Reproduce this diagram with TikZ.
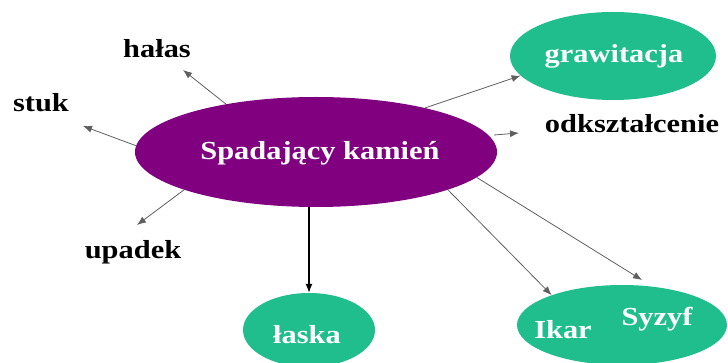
\documentclass[tikz,border=0pt]{standalone}
\usepackage{fontspec}
\setmainfont{Liberation Serif}
\usetikzlibrary{arrows.meta,shapes.geometric}
\definecolor{kpurple}{RGB}{128,0,128}
\definecolor{kgreen}{RGB}{32,190,140}
\definecolor{karrow}{RGB}{95,95,95}
\newcommand{\wide}[1]{\scalebox{1.17}[1]{#1}}
\tikzset{
  lbl/.style={font=\fontsize{26}{30}\selectfont\bfseries, text=black, inner sep=0pt, anchor=base},
  intxt/.style={lbl, text=white},
  blob/.style={ellipse, draw=none, inner sep=0pt},
  conn/.style={draw=karrow, line width=0.8pt, -{Latex[length=9pt,width=7pt]}},
  connb/.style={draw=black, line width=1.3pt, -{Latex[length=9pt,width=7pt]}}
}
\begin{document}
\begin{tikzpicture}[x=1pt,y=-1pt]
\useasboundingbox (0,0) rectangle (728,363);
\clip (0,0) rectangle (728,363);
% ellipses
\node[blob, fill=kpurple, minimum width=362pt, minimum height=110pt] (c) at (316,152) {};
\node[blob, fill=kgreen, minimum width=206pt, minimum height=88pt] (g) at (613,56) {};
\node[blob, fill=kgreen, minimum width=132pt, minimum height=74pt] (l) at (309,330) {};
\node[blob, fill=kgreen, minimum width=210pt, minimum height=80pt] (is) at (622,325) {};
% texts
\node[intxt] (ct) at (320,160) {\wide{Spadający kamień}};
\node[intxt] (gt) at (614,63) {\wide{grawitacja}};
\node[intxt] (lt) at (307,343) {\wide{łaska}};
\node[intxt] (it) at (563,338) {\wide{Ikar}};
\node[intxt] (st) at (657,325) {\wide{Syzyf}};
\node[lbl] (halas) at (157,58) {\wide{hałas}};
\node[lbl] (stuk) at (41,112) {\wide{stuk}};
\node[lbl] (upadek) at (133,259) {\wide{upadek}};
\node[lbl] (odk) at (632,133) {\wide{odkształcenie}};
% arrow tips
\coordinate (th) at (183,70);
\coordinate (ts) at (83,126);
\coordinate (tu) at (137,225);
\coordinate (to) at (519,133);
\coordinate (tsy) at (642,280);
\coordinate (so) at (494,135);
% connectors
\draw[conn] (c.152.5) -- (th);
\draw[conn] (c.178) -- (ts);
\draw[conn] (c.196.4) -- (tu);
\draw[conn] (c.22) -- (g.192.5);
\draw[conn] (so) -- (to);
\draw[connb] (c.south -| l.north) -- (l.north);
\draw[conn] (c.344.4) -- (is.157.4);
\draw[conn] (c.351) -- (tsy);
\end{tikzpicture}
\end{document}
